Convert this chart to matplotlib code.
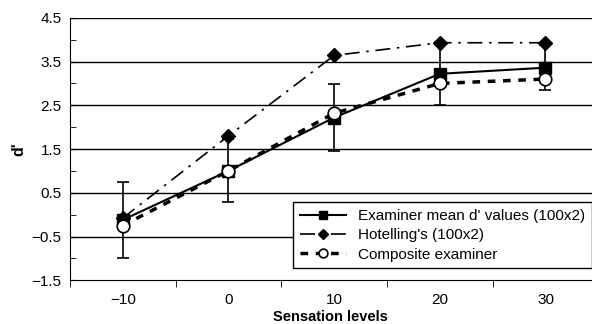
import numpy as np
import matplotlib.pyplot as plt
from matplotlib.ticker import MultipleLocator, FixedLocator

plt.rcParams['font.family'] = ['Liberation Sans', 'DejaVu Sans']

levels = ['\u221210', '0', '10', '20', '30']
examiner = [-0.12, 1.0, 2.22, 3.22, 3.36]
examiner_err = [0.86, 0.72, 0.76, 0.72, 0.52]
hotelling = [-0.08, 1.8, 3.64, 3.93, 3.93]
composite = [-0.25, 1.0, 2.32, 3.0, 3.1]

fig = plt.figure(figsize=(5.92, 3.24), dpi=100)
ax = fig.add_axes([0.118, 0.135, 0.882, 0.81])

x = np.arange(len(levels))

hot_line, = ax.plot(x, hotelling, color='black', lw=1.2, dashes=(9, 4, 1.5, 4),
                    marker='D', ms=7, mfc='black', mec='black', zorder=3)
comp_line, = ax.plot(x, composite, color='black', lw=2.5, dashes=(2.2, 2.2),
                     marker='o', ms=9, mfc='white', mec='black', mew=1.2,
                     zorder=4)
eb = ax.errorbar(x, examiner, yerr=examiner_err, color='black', lw=1.5,
                 marker='s', ms=9, mfc='black', mec='black', capsize=4,
                 elinewidth=1.2, capthick=1.2, zorder=3)

ax.set_xlim(-0.5, 4.5 - 0.06)
ax.set_ylim(-1.5, 4.5)
ax.set_xticks(x)
ax.set_xticklabels(levels)
ax.xaxis.set_minor_locator(FixedLocator(np.arange(-0.5, 5, 1)))
ax.tick_params(axis='x', which='major', length=0, pad=9, labelsize=11)
ax.tick_params(axis='x', which='minor', length=5, direction='out')

yt = np.arange(-1.5, 4.6, 1.0)
ax.set_yticks(yt)
ax.set_yticklabels([f'{v:.1f}'.replace('-', '\u2212') for v in yt])
ax.yaxis.set_minor_locator(MultipleLocator(0.5))
ax.tick_params(axis='y', which='both', direction='in', length=4, labelsize=11,
               pad=6)

for v in yt[1:]:
    ax.axhline(v, color='black', lw=1.0, zorder=1)

ax.spines['right'].set_visible(False)
ax.spines['top'].set_visible(False)

ax.set_xlabel('Sensation levels', fontweight='bold', fontsize=10.5, labelpad=2)
ax.set_ylabel("d'", fontweight='bold', fontsize=11.5, labelpad=4)

leg = ax.legend([eb[0], hot_line, comp_line],
                ["Examiner mean d' values (100x2)", "Hotelling's (100x2)",
                 'Composite examiner'],
                loc='lower right', bbox_to_anchor=(1.0, 0.045), fontsize=11,
                frameon=True, fancybox=False, edgecolor='black',
                framealpha=1, borderpad=0.45, labelspacing=0.35,
                handlelength=3.0, borderaxespad=0.0, markerscale=0.7)
leg.get_frame().set_linewidth(1.0)
leg.set_zorder(5)

fig.savefig('out.png', dpi=100)
